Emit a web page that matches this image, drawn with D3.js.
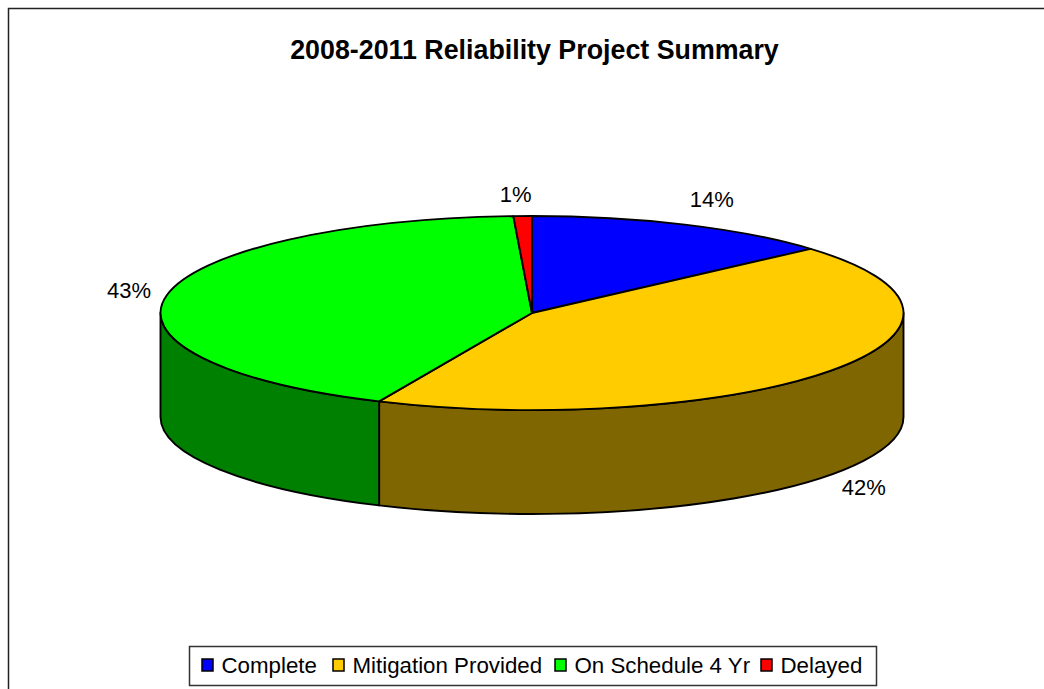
<!DOCTYPE html>
<html>
  <head>
    <meta charset="utf-8">
    <script src="https://d3js.org/d3.v7.min.js"></script>
    <style>
      html, body { margin: 0; padding: 0; background: white; overflow: hidden; }
      text { font-family: "Liberation Sans", Arial, sans-serif; fill: #000; }
    </style>
  </head>
  <body>
    <script>
        var categories = ["Complete", "Mitigation Provided", "On Schedule 4 Yr", "Delayed"]
        var sliceValues = [13.5, 43.25, 42.45, 0.8]
        var sliceLabels = ["14%", "42%", "43%", "1%"]
        var topColors = ["#0000ff", "#ffcc00", "#00ff00", "#ff0000"]
        var sideColors = ["#000080", "#806600", "#008000", "#800000"]
        var title = "2008-2011 Reliability Project Summary"

        var width = 1044, height = 689
        var cx = 532, cy = 313, rx = 371.5, ry = 97, depth = 104

        var svg = d3.select("body").append("svg")
            .attr("width", width)
            .attr("height", height)
            .style("display", "block")

        // chart frame, only top and left edges are inside the page
        svg.append("path")
            .attr("d", "M8.5,700V8.5H1050")
            .attr("fill", "none")
            .attr("stroke", "#222")
            .attr("stroke-width", 1.5)

        svg.append("text")
            .text(title)
            .attr("x", 534.5)
            .attr("y", 59)
            .attr("text-anchor", "middle")
            .attr("font-size", 26.8)
            .attr("font-weight", "bold")

        var slices = d3.pie().sort(null).value(function(d){ return d })(sliceValues)

        // angle is clockwise from 12 o'clock, same as d3.pie
        function px(a){ return cx + rx * Math.sin(a) }
        function py(a){ return cy - ry * Math.cos(a) }

        var g = svg.append("g")
            .attr("stroke", "#000")
            .attr("stroke-width", 1.9)
            .attr("stroke-linejoin", "round")

        // side wall, only the front half shows
        slices.forEach(function(d, i){
            var a0 = Math.max(d.startAngle, Math.PI / 2)
            var a1 = Math.min(d.endAngle, Math.PI * 1.5)
            if (a1 <= a0) return
            g.append("path")
                .attr("fill", sideColors[i])
                .attr("d", "M" + px(a0) + "," + py(a0)
                    + " A" + rx + "," + ry + " 0 0 1 " + px(a1) + "," + py(a1)
                    + " L" + px(a1) + "," + (py(a1) + depth)
                    + " A" + rx + "," + ry + " 0 0 0 " + px(a0) + "," + (py(a0) + depth)
                    + " Z")
        })

        g.selectAll(".top").data(slices)
            .enter().append("path")
            .attr("class", "top")
            .attr("fill", function(d, i){ return topColors[i] })
            .attr("d", function(d){
                var large = d.endAngle - d.startAngle > Math.PI ? 1 : 0
                return "M" + cx + "," + cy
                    + " L" + px(d.startAngle) + "," + py(d.startAngle)
                    + " A" + rx + "," + ry + " 0 " + large + " 1 " + px(d.endAngle) + "," + py(d.endAngle)
                    + " Z"
            })

        // data labels, nudged off the rim point at each slice's middle
        var labelNudge = [[27, -18], [33, 124], [-38, 3], [-7, -14]]
        svg.selectAll(".pct").data(slices)
            .enter().append("text")
            .attr("class", "pct")
            .text(function(d, i){ return sliceLabels[i] })
            .attr("text-anchor", "middle")
            .attr("font-size", 22)
            .attr("x", function(d, i){ return px((d.startAngle + d.endAngle) / 2) + labelNudge[i][0] })
            .attr("y", function(d, i){ return py((d.startAngle + d.endAngle) / 2) + labelNudge[i][1] })

        // legend
        var legend = svg.append("g")
        legend.append("rect")
            .attr("x", 189.5).attr("y", 646.5)
            .attr("width", 687).attr("height", 39)
            .attr("fill", "white")
            .attr("stroke", "#333")
            .attr("stroke-width", 1.5)

        var swatchX = d3.scaleOrdinal().domain(categories).range([202, 333, 555, 761])
        categories.forEach(function(c, i){
            legend.append("rect")
                .attr("x", swatchX(c)).attr("y", 659)
                .attr("width", 11).attr("height", 12)
                .attr("fill", topColors[i])
                .attr("stroke", "#000")
                .attr("stroke-width", 1.5)
            legend.append("text")
                .text(c)
                .attr("x", swatchX(c) + 19.5)
                .attr("y", 672.5)
                .attr("font-size", 22.3)
        })
    </script>
  </body>
</html>
